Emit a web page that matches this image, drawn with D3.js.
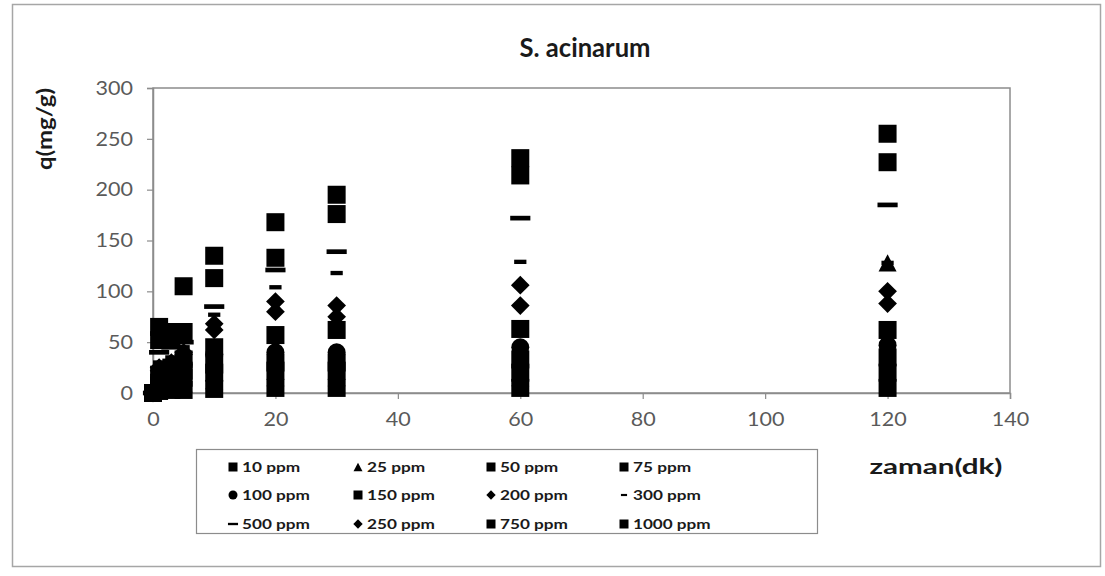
<!DOCTYPE html>
<html>
<head>
<meta charset="utf-8">
<script src="https://cdn.jsdelivr.net/npm/d3@7"></script>
<style>
  html, body { margin: 0; padding: 0; background: #fff; }
  svg { display: block; }
</style>
</head>
<body>
<svg id="chart" width="1105" height="576"></svg>
<script>
// ---- data ----
const times = [0, 1, 3, 5, 10, 20, 30, 60, 120];
const seriesNames = ["10 ppm", "25 ppm", "50 ppm", "75 ppm", "100 ppm", "150 ppm", "200 ppm", "300 ppm", "500 ppm", "250 ppm", "750 ppm", "1000 ppm"];
const seriesMarkers = ["square", "triangle", "square", "square", "circle", "square", "diamond", "smalldash", "dash", "diamond", "square", "square"];
const q10   = [0, 2, 3, 3, 4, 5, 5, 5, 5];
const q25   = [0, 4, 6, 9, 12, 15, 15, 15, 128];
const q50   = [0, 7, 10, 15, 20, 22, 22, 20, 20];
const q75   = [0, 10, 15, 22, 28, 30, 30, 33, 35];
const q100  = [0, 14, 20, 28, 38, 40, 40, 45, 47];
const q150  = [0, 18, 25, 33, 45, 57, 62, 63, 62];
const q200  = [0, 22, 28, 38, 62, 90, 86, 106, 100];
const q300  = [0, 30, 35, 45, 77, 104, 118, 129, 128];
const q500  = [0, 40, 45, 50, 85, 121, 139, 172, 185];
const q250  = [0, 25, 30, 40, 68, 80, 75, 86, 88];
const q750  = [0, 52, 55, 60, 113, 133, 176, 214, 227];
const q1000 = [0, 65, 60, 105, 135, 168, 195, 231, 255];
const seriesValues = [q10, q25, q50, q75, q100, q150, q200, q300, q500, q250, q750, q1000];
const xTicks = [0, 20, 40, 60, 80, 100, 120, 140];
const yTicks = [0, 50, 100, 150, 200, 250, 300];
const titleText = "S. acinarum";
const xLabel = "zaman(dk)";
const yLabel = "q(mg/g)";

// ---- layout ----
const svg = d3.select("#chart");
const plot = { left: 153, right: 1010, top: 88, bottom: 393 };
const x = d3.scaleLinear().domain([0, 140]).range([plot.left, plot.right]);
const y = d3.scaleLinear().domain([0, 300]).range([plot.bottom, plot.top]);
const axisColor = "#8c8c8c";
const tickText = "#5a5a5a";
const boldFont = "Lato, 'Open Sans', sans-serif";

// outer frame
svg.append("rect").attr("x", 12.5).attr("y", 4.5).attr("width", 1088).attr("height", 562)
  .attr("fill", "#fff").attr("stroke", "#a6a6a6").attr("stroke-width", 1.5);

// title
svg.append("text").attr("x", 585).attr("y", 57).attr("text-anchor", "middle")
  .attr("font-family", boldFont).attr("font-weight", 700).attr("font-size", 27)
  .attr("textLength", 131).attr("lengthAdjust", "spacingAndGlyphs")
  .attr("fill", "#1a1a1a").text(titleText);

// plot border
svg.append("rect").attr("x", plot.left).attr("y", plot.top)
  .attr("width", plot.right - plot.left).attr("height", plot.bottom - plot.top)
  .attr("fill", "none").attr("stroke", axisColor).attr("stroke-width", 1.5);

// axes
const yAxis = d3.axisLeft(y).tickValues(yTicks).tickSize(6).tickPadding(14);
const gy = svg.append("g").attr("transform", `translate(${plot.left},0)`).call(yAxis);
const xAxis = d3.axisBottom(x).tickValues(xTicks).tickSize(6).tickPadding(13);
const gx = svg.append("g").attr("transform", `translate(0,${plot.bottom})`).call(xAxis);
[gx, gy].forEach(g => {
  g.select(".domain").attr("stroke", axisColor).attr("stroke-width", 1.5);
  g.selectAll(".tick line").attr("stroke", axisColor).attr("stroke-width", 1.2);
  g.selectAll(".tick text").attr("fill", tickText).attr("font-family", "Lato, 'Open Sans', sans-serif")
    .attr("font-size", 19.5)
    .attr("textLength", d => String(d).length * 12.5).attr("lengthAdjust", "spacingAndGlyphs");
});

// axis titles
svg.append("text").attr("transform", "translate(52,129) rotate(-90)").attr("text-anchor", "middle")
  .attr("font-family", boldFont).attr("font-weight", 700).attr("font-size", 20)
  .attr("textLength", 82).attr("lengthAdjust", "spacingAndGlyphs")
  .attr("fill", "#1a1a1a").text(yLabel);
svg.append("text").attr("x", 936).attr("y", 474).attr("text-anchor", "middle")
  .attr("font-family", boldFont).attr("font-weight", 700).attr("font-size", 21)
  .attr("textLength", 133).attr("lengthAdjust", "spacingAndGlyphs")
  .attr("fill", "#1a1a1a").text(xLabel);

// marker drawer
function drawMarker(g, type, cx, cy, s) {
  if (type === "square") {
    g.append("rect").attr("x", cx - s / 2).attr("y", cy - s / 2).attr("width", s).attr("height", s).attr("fill", "#000");
  } else if (type === "triangle") {
    const h = s * 0.95;
    g.append("path").attr("d", `M${cx},${cy - h / 2} L${cx + s / 2},${cy + h / 2} L${cx - s / 2},${cy + h / 2} Z`).attr("fill", "#000");
  } else if (type === "circle") {
    g.append("circle").attr("cx", cx).attr("cy", cy).attr("r", s / 2).attr("fill", "#000");
  } else if (type === "diamond") {
    const r = s * 0.52;
    g.append("path").attr("d", `M${cx},${cy - r} L${cx + r},${cy} L${cx},${cy + r} L${cx - r},${cy} Z`).attr("fill", "#000");
  } else if (type === "dash") {
    g.append("rect").attr("x", cx - s * 0.56).attr("y", cy - s * 0.13).attr("width", s * 1.12).attr("height", s * 0.26).attr("fill", "#000");
  } else if (type === "smalldash") {
    g.append("rect").attr("x", cx - s * 0.34).attr("y", cy - s * 0.12).attr("width", s * 0.68).attr("height", s * 0.24).attr("fill", "#000");
  }
}

// points
const pts = svg.append("g");
seriesValues.forEach((vals, si) => {
  const g = pts.append("g");
  vals.forEach((v, i) => {
    drawMarker(g, seriesMarkers[si], x(times[i]), y(v), 18);
  });
});

// legend
const lg = svg.append("g");
lg.append("rect").attr("x", 196.5).attr("y", 449.5).attr("width", 621).attr("height", 84)
  .attr("fill", "#fff").attr("stroke", "#8c8c8c").attr("stroke-width", 1.2);
const colX = [233, 358, 491, 624];
const rowY = [467, 495, 524];
seriesNames.forEach((name, i) => {
  const c = i % 4, r = Math.floor(i / 4);
  const cx = colX[c], cy = rowY[r];
  drawMarker(lg, seriesMarkers[i], cx, cy, 9);
  lg.append("text").attr("x", cx + 9).attr("y", cy + 5)
    .attr("font-family", boldFont).attr("font-weight", 700).attr("font-size", 14)
    .attr("textLength", name.length * 9.7).attr("lengthAdjust", "spacingAndGlyphs")
    .attr("fill", "#1a1a1a").text(name);
});
</script>
</body>
</html>
